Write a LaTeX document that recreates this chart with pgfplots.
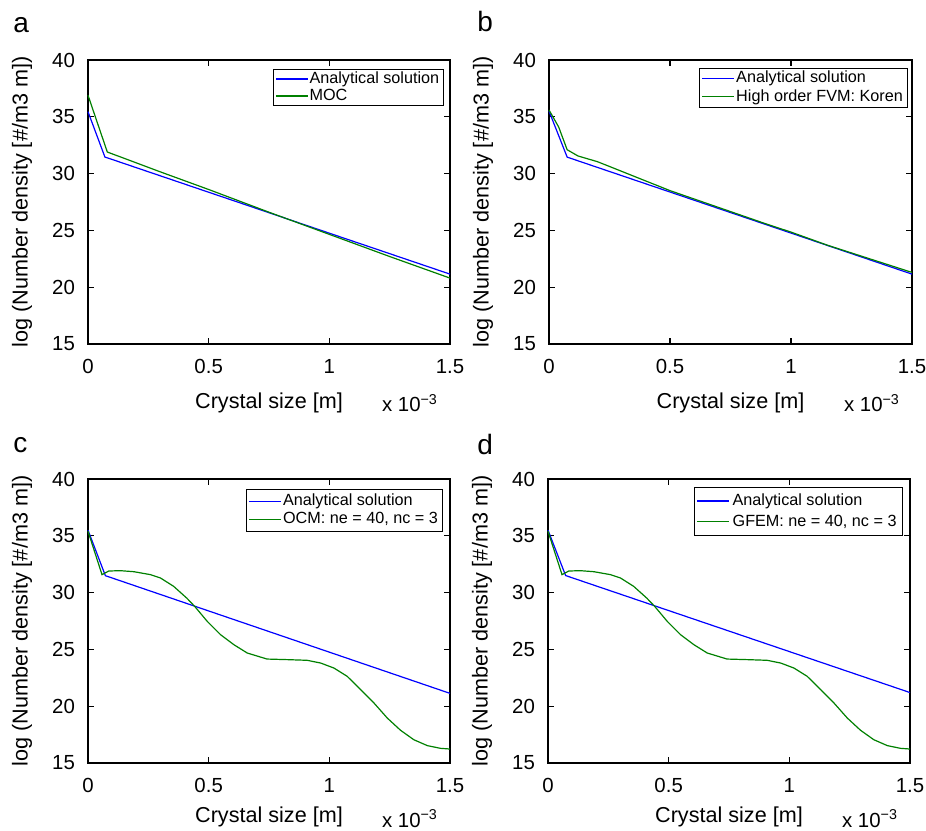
\documentclass[border=0pt]{standalone}
\usepackage{pgfplots}
\pgfplotsset{compat=1.18}
\usepackage{fontspec}
\setmainfont{Liberation Sans}

\definecolor{mblue}{rgb}{0,0,1}
\definecolor{mgreen}{rgb}{0,0.5,0}

\pgfplotsset{
  panel/.style={
    scale only axis, width=181pt, height=142pt,
    anchor=south west,
    xmin=0, xmax=1.5, ymin=15, ymax=40,
    xtick={0,0.5,1,1.5}, ytick={15,20,...,40},
    tick align=inside, major tick length=3pt,
    axis line style={line width=0.6pt},
    every tick/.style={black, line width=0.6pt},
    /pgf/number format/assume math mode=true,
    tick label style={font=\fontsize{10.2}{12}\selectfont},
    xticklabel style={yshift=-4pt},
    yticklabel style={xshift=-3pt},
    label style={font=\fontsize{10.8}{13}\selectfont},
    xlabel={Crystal size [m]},
    ylabel={log (Number density [\#/m3 m])},
    xlabel style={at={(axis description cs:0.5,-0.2254)}, anchor=base},
    ylabel style={at={(axis description cs:-0.182,0.5)}, anchor=center},
    legend style={
      at={(0.983,0.968)}, anchor=north east,
      font=\fontsize{8.1}{9.5}\selectfont, inner xsep=1.5pt, inner ysep=0.5pt,
      nodes={inner sep=0.6pt}},
    legend cell align=left,
    legend image code/.code={\fill[#1, draw=none] (0pt,-0.3pt) rectangle (16pt,0.3pt);},
    clip=false,
  },
  ana/.style={mblue, line width=0.6pt},
  num/.style={mgreen, line width=0.6pt},
}

\newcommand{\expnote}[1]{\node[anchor=base east, font=\fontsize{10.2}{12}\selectfont]
  at ([xshift=-2.5pt,yshift=-#1]rel axis cs:1,0) {x 10\textsuperscript{−3}};}

\begin{document}
\begin{tikzpicture}
\path[use as bounding box] (0,0) rectangle (463pt,415pt);

% a
\begin{axis}[panel, at={(44pt,243pt)}]
  \addplot[ana] coordinates {(0,35.45)(0.07,31.46)(1.5,21.15)};
  \addplot[num] coordinates {(0,36.9)(0.08,31.9)(0.3,30.15)(0.5,28.6)(0.75,26.6)(1.0,24.65)(1.25,22.7)(1.5,20.8)};
  \legend{Analytical solution, MOC}
  \expnote{34pt}
\end{axis}

% b
\begin{axis}[panel, at={(274.5pt,243pt)}, width=181.5pt,
  legend style={at={(0.989,0.972)}, nodes={inner sep=0.9pt}}]
  \addplot[ana] coordinates {(0,35.5)(0.075,31.45)(1.5,21.15)};
  \addplot[num] coordinates {(0,35.6)(0.04,34.1)(0.075,32.1)(0.12,31.55)(0.2,31.05)(0.5,28.5)(0.9,25.55)(1.0,24.85)(1.15,23.7)(1.5,21.3)};
  \legend{Analytical solution, High order FVM: Koren}
  \expnote{34pt}
\end{axis}

% c
\begin{axis}[panel, at={(44pt,33.5pt)},
  xlabel style={at={(axis description cs:0.5,-0.211)}},
  legend style={at={(0.981,0.965)}, inner ysep=1.5pt, nodes={inner sep=0.9pt}}]
  \addplot[ana] coordinates {(0,35.5)(0.072,31.49)(1.5,21.13)};
  \addplot[num] coordinates {(0,35.4)(0.058,31.58)(0.086,31.9)(0.134,31.93)(0.19,31.84)(0.259,31.58)(0.30,31.29)(0.355,30.55)(0.41,29.5)(0.442,28.79)(0.494,27.47)(0.549,26.3)(0.604,25.42)(0.66,24.68)(0.742,24.15)(0.825,24.1)(0.908,24.04)(0.964,23.8)(1.019,23.36)(1.074,22.63)(1.13,21.46)(1.185,20.28)(1.24,18.96)(1.295,17.88)(1.35,17.05)(1.406,16.53)(1.461,16.29)(1.5,16.23)};
  \legend{Analytical solution, {OCM: ne = 40, nc = 3}}
  \expnote{32pt}
\end{axis}

% d
\begin{axis}[panel, at={(274pt,33.5pt)},
  xlabel style={at={(axis description cs:0.5,-0.211)}},
  legend style={at={(0.981,0.972)}, inner ysep=1.5pt, nodes={inner sep=1.6pt}}]
  \addplot[ana] coordinates {(0,35.5)(0.073,31.5)(1.5,21.2)};
  \addplot[num] coordinates {(0,35.4)(0.058,31.58)(0.086,31.9)(0.134,31.93)(0.19,31.84)(0.259,31.58)(0.30,31.29)(0.355,30.55)(0.41,29.5)(0.442,28.79)(0.494,27.47)(0.549,26.3)(0.604,25.42)(0.66,24.68)(0.742,24.15)(0.825,24.1)(0.908,24.04)(0.964,23.8)(1.019,23.36)(1.074,22.63)(1.13,21.46)(1.185,20.28)(1.24,18.96)(1.295,17.88)(1.35,17.05)(1.406,16.53)(1.461,16.29)(1.5,16.23)};
  \legend{Analytical solution, {GFEM: ne = 40, nc = 3}}
  \expnote{32pt}
\end{axis}

% panel letters
\node[anchor=base west, font=\fontsize{14}{16}\selectfont, inner sep=0pt] at (6.5pt,398.5pt) {a};
\node[anchor=base west, font=\fontsize{14}{16}\selectfont, inner sep=0pt] at (238.5pt,399pt) {b};
\node[anchor=base west, font=\fontsize{14}{16}\selectfont, inner sep=0pt] at (6.5pt,188.5pt) {c};
\node[anchor=base west, font=\fontsize{14}{16}\selectfont, inner sep=0pt] at (238.5pt,187.5pt) {d};
\end{tikzpicture}
\end{document}
